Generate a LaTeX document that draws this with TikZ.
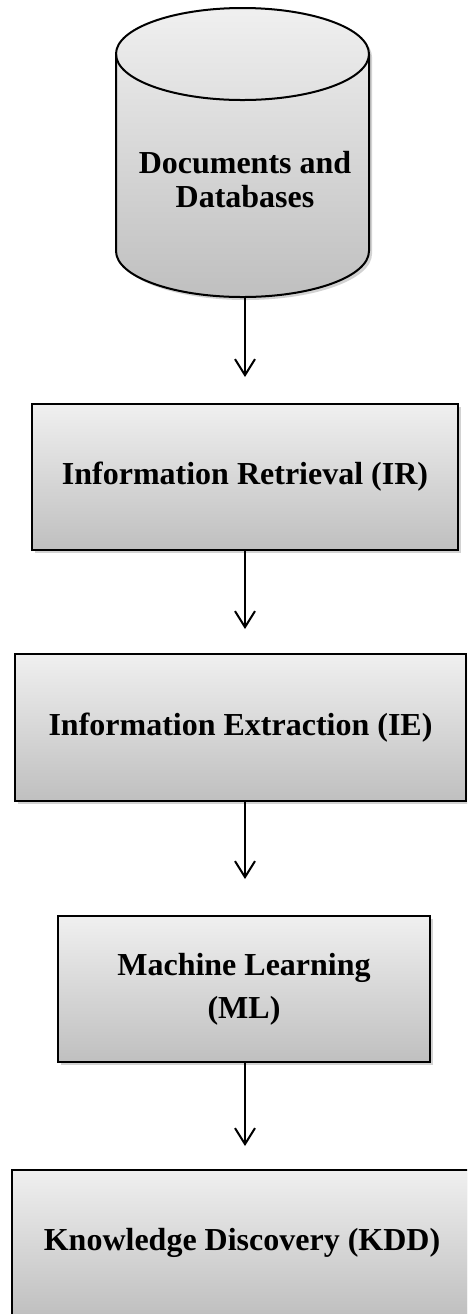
\documentclass[tikz,border=0pt]{standalone}
\usepackage{fontspec}
\setmainfont{Liberation Serif}
\usetikzlibrary{shadows,arrows.meta}

\begin{document}
\begin{tikzpicture}[x=0.5pt,y=-0.5pt]
        \tikzstyle{shade}=[top color=gray!12, bottom color=gray!50, drop shadow={shadow xshift=1.5pt, shadow yshift=-1.5pt, fill=gray!35, opacity=1}]
        \tikzstyle{label}=[font=\bfseries\fontsize{16}{17}\selectfont, align=center, inner sep=0pt]
        \tikzstyle{stage}=[draw, line width=1pt, rectangle, shade, label]
        \tikzstyle{flow}=[line width=1pt, -{Straight Barb[length=8pt,width=10pt]}]

        \useasboundingbox (0,0) rectangle (467,1314);
        \clip (0,0) rectangle (467,1314);

        % Draw the source store as a cylinder
        \path[shade] (116,54) -- (116,251) arc[start angle=180, end angle=360, x radius=63.25pt, y radius=23pt]
            -- (369,54) arc[start angle=0, end angle=180, x radius=63.25pt, y radius=23pt] -- cycle;
        \draw[line width=1pt] (116,54) -- (116,251) arc[start angle=180, end angle=360, x radius=63.25pt, y radius=23pt]
            -- (369,54) arc[start angle=0, end angle=180, x radius=63.25pt, y radius=23pt];
        \draw[line width=1pt] (116,54) arc[start angle=180, end angle=360, x radius=63.25pt, y radius=23pt];
        \node[label] (db) at (245,180) {Documents and\\Databases};
        \coordinate (dbbase) at (245,297);

        % Draw the processing stages, top to bottom
        \node[stage, minimum width=213pt, minimum height=73pt] (ir) at (245,477) {Information Retrieval (IR)};
        \node[stage, minimum width=225.5pt, minimum height=73.5pt] (ie) at (240.5,727.5) {Information Extraction (IE)};
        \node[stage, minimum width=186pt, minimum height=73pt] (ml) at (244,989) {Machine Learning\\[4.5pt](ML)};
        \node[stage, minimum width=230pt, minimum height=73pt] (kdd) at (242,1243) {Knowledge Discovery (KDD)};

        % Add arrows between stages
        \draw[flow, shorten >=13pt] (dbbase) -- (dbbase |- ir.north);
        \draw[flow, shorten >=12pt] (ir.south) -- (ir.south |- ie.north);
        \draw[flow, shorten >=18pt] (ir.south |- ie.south) -- (ir.south |- ml.north);
        \draw[flow, shorten >=11.5pt] (ir.south |- ml.south) -- (ir.south |- kdd.north);
\end{tikzpicture}
\end{document}
